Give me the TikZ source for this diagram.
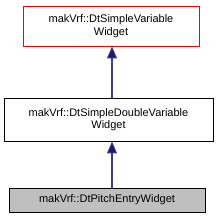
\documentclass[tikz,border=0pt]{standalone}
\usepackage{fontspec}
\setmainfont{Liberation Sans}
\usetikzlibrary{arrows.meta,positioning}
\definecolor{edgeblue}{HTML}{191970}
\definecolor{nodered}{HTML}{FF0000}
\begin{document}
\begin{tikzpicture}[x=1pt,y=-1pt,font=\fontsize{11}{12.5}\selectfont,
  cls/.style={draw=black, fill=white, align=center, inner sep=0pt, line width=0.8pt},
  top/.style={cls, draw=nodered},
  inh/.style={draw=edgeblue!85!white, line width=1.1pt, {Triangle[length=12pt,width=10pt,fill=edgeblue]}-}]
  \useasboundingbox (0,0) rectangle (224,219);
  \node[top, minimum width=176, minimum height=40] (simple) at (111,26)
    {makVrf::DtSimpleVariable\\Widget};
  \node[cls, minimum width=209, minimum height=43] (double) at (108.5,119.5)
    {makVrf::DtSimpleDoubleVariable\\Widget};
  \node[cls, fill=black!25, minimum width=196, minimum height=24] (pitch) at (107,200)
    {makVrf::DtPitchEntryWidget};
  \draw[inh] (simple.south -| 112,0) -- (double.north -| 112,0);
  \draw[inh] (double.south -| 112,0) -- (pitch.north -| 112,0);
\end{tikzpicture}
\end{document}
